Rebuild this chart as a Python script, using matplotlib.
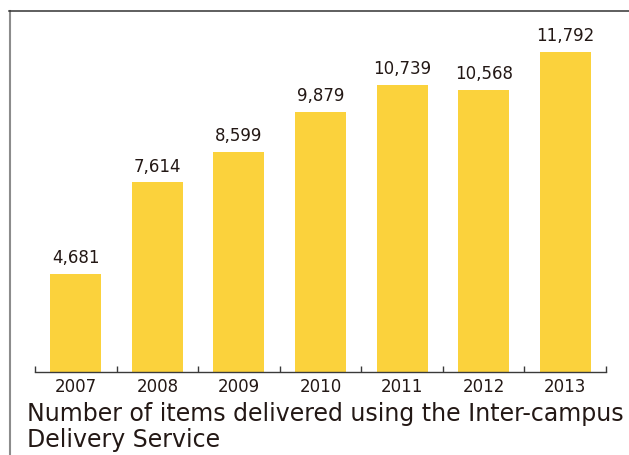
import matplotlib
matplotlib.use("Agg")
import matplotlib.pyplot as plt
from matplotlib.lines import Line2D

years = ["2007", "2008", "2009", "2010", "2011", "2012", "2013"]
items = [4681, 7614, 8599, 9879, 10739, 10568, 11792]
title_lines = ["Number of items delivered using the Inter-campus", "Delivery Service"]

W, H = 629, 456
fig = plt.figure(figsize=(W / 100, H / 100), dpi=100)
plt.rcParams['font.family'] = ['DejaVu Sans']

txt = '#231815'
bar_col = '#FBD23C'

ax_left, ax_right = 35 / W, 606 / W
ax_bottom = (H - 372.7) / H
ax_top = (H - 12) / H
ax = fig.add_axes([ax_left, ax_bottom, ax_right - ax_left, ax_top - ax_bottom])

x = list(range(len(years)))
bars = ax.bar(x, items, width=0.625, color=bar_col, zorder=2)
for xi, v in zip(x, items):
    ax.annotate(f"{v:,}", (xi, v), xytext=(0, 8.5), textcoords='offset points',
                ha='center', va='baseline', fontsize=12, color=txt)

ax.set_xlim(-0.5, len(years) - 0.5)
ax.set_ylim(1551, 13104)
for s in ['top', 'left', 'right']:
    ax.spines[s].set_visible(False)
ax.spines['bottom'].set_color('#3a3a3a')
ax.spines['bottom'].set_linewidth(1.0)
ax.set_yticks([])
ax.set_xticks([i - 0.5 for i in range(len(years) + 1)])
ax.set_xticklabels([])
ax.tick_params(axis='x', which='major', direction='in', length=4.5, width=1.0, color='#3a3a3a')
ax.set_xticks(x, minor=True)
ax.set_xticklabels(years, minor=True, fontsize=12, color=txt)
ax.tick_params(axis='x', which='minor', length=0, pad=4)

fig.text(27 / W, 1 - 421 / H, title_lines[0], ha='left', va='baseline', fontsize=17,
         color=txt)
fig.text(27 / W, 1 - 447.5 / H, title_lines[1], ha='left', va='baseline', fontsize=17,
         color=txt)

# frame lines
fig.add_artist(Line2D([9.5 / W, 9.5 / W], [0, 1 - 11.5 / H], color='#8c8c8c', lw=1.5,
                      transform=fig.transFigure))
fig.add_artist(Line2D([9 / W, 1], [1 - 11.5 / H, 1 - 11.5 / H], color='#333333', lw=1.1,
                      transform=fig.transFigure))

fig.savefig("out.png", dpi=100)
